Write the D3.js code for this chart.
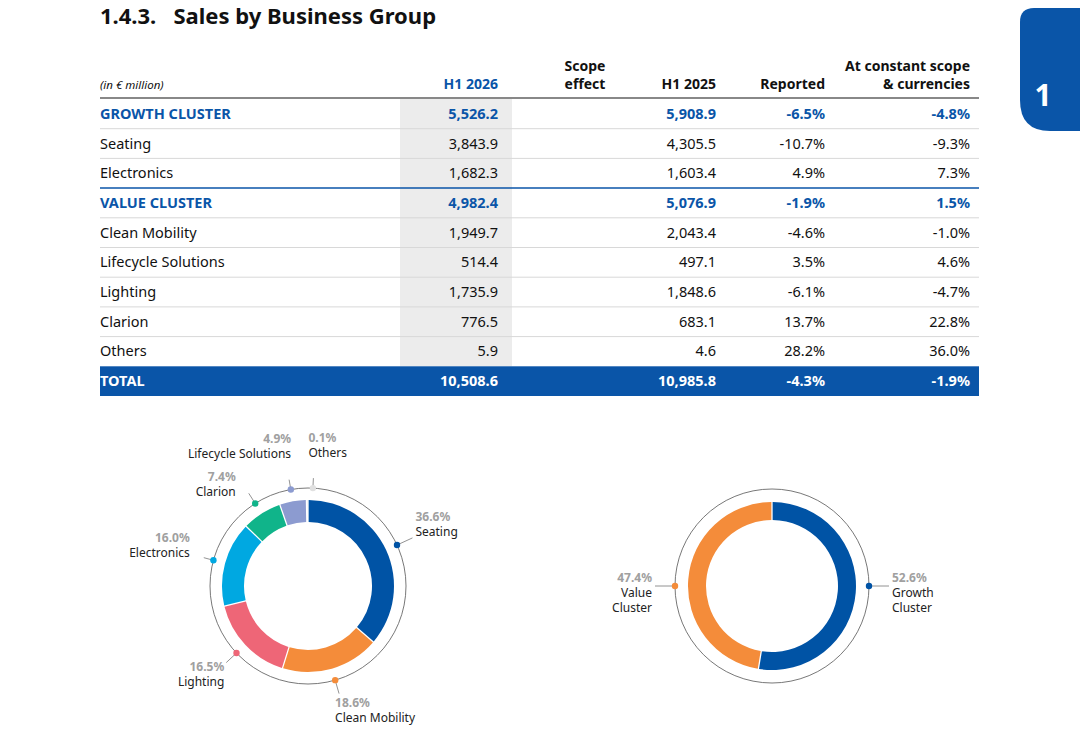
<!DOCTYPE html>
<html><head><meta charset="utf-8">
<script src="https://cdn.jsdelivr.net/npm/d3@7"></script>
<style>body{margin:0;background:#fff;font-family:"Noto Sans",sans-serif;}</style>
</head><body>
<svg id="chart" width="1080" height="735"></svg>
<script>
// table data
const rowLabels = ["GROWTH CLUSTER","Seating","Electronics","VALUE CLUSTER","Clean Mobility","Lifecycle Solutions","Lighting","Clarion","Others","TOTAL"];
const h1_2026 = ["5,526.2","3,843.9","1,682.3","4,982.4","1,949.7","514.4","1,735.9","776.5","5.9","10,508.6"];
const h1_2025 = ["5,908.9","4,305.5","1,603.4","5,076.9","2,043.4","497.1","1,848.6","683.1","4.6","10,985.8"];
const reported = ["-6.5%","-10.7%","4.9%","-1.9%","-4.6%","3.5%","-6.1%","13.7%","28.2%","-4.3%"];
const constant = ["-4.8%","-9.3%","7.3%","1.5%","-1.0%","4.6%","-4.7%","22.8%","36.0%","-1.9%"];
const rowKind = ["cluster","item","item","cluster","item","item","item","item","item","total"];

// donut data
const groups = ["Seating","Clean Mobility","Lighting","Electronics","Clarion","Lifecycle Solutions","Others"];
const groupShare = [36.6,18.6,16.5,16.0,7.4,4.9,0.1];
const groupColors = ["#0053a5","#f48c3a","#ee6677","#00a8e1","#10b48a","#8c9bd0","#e0e0e0"];
const clusters = ["Growth Cluster","Value Cluster"];
const clusterShare = [52.6,47.4];
const clusterColors = ["#0053a5","#f48c3a"];

const svg = d3.select("#chart");
const blue = "#0a55a8";
const font = "'Noto Sans',sans-serif";

svg.append("text").attr("x",100).attr("y",24).attr("font-size",22).attr("font-weight",700)
  .attr("fill","#111").attr("font-family",font).attr("xml:space","preserve").text("1.4.3.   Sales by Business Group");

// badge
svg.append("path").attr("d","M1034,8 L1080,8 L1080,131 L1050,131 Q1020,131 1020,100 L1020,22 Q1020,8 1034,8 Z").attr("fill",blue);
svg.append("text").attr("x",1043).attr("y",106).attr("font-size",30).attr("font-weight",700).attr("fill","#fff").attr("text-anchor","middle").text("1");

// table
const y = d3.scaleBand().domain(d3.range(rowLabels.length)).range([99,396]);
const x0 = 100, x1 = 979;
svg.append("rect").attr("x",400).attr("y",99).attr("width",112).attr("height",y(9)-99).attr("fill","#ececec");

const head = svg.append("g").attr("font-family",font).attr("font-size",14).attr("font-weight",700).attr("fill","#111");
head.append("text").attr("x",100).attr("y",89).attr("font-size",11.5).attr("font-weight",400).attr("font-style","italic").text("(in € million)");
head.append("text").attr("x",498).attr("y",89).attr("text-anchor","end").attr("fill",blue).text("H1 2026");
head.append("text").attr("x",585).attr("y",71).attr("text-anchor","middle").text("Scope");
head.append("text").attr("x",585).attr("y",89).attr("text-anchor","middle").text("effect");
head.append("text").attr("x",716).attr("y",89).attr("text-anchor","end").text("H1 2025");
head.append("text").attr("x",825).attr("y",89).attr("text-anchor","end").text("Reported");
head.append("text").attr("x",970).attr("y",71).attr("text-anchor","end").text("At constant scope");
head.append("text").attr("x",970).attr("y",89).attr("text-anchor","end").text("& currencies");
svg.append("line").attr("x1",x0).attr("x2",x1).attr("y1",98).attr("y2",98).attr("stroke","#888").attr("stroke-width",2);

const rows = svg.append("g").selectAll("g").data(rowLabels).join("g")
  .attr("transform",(d,i)=>`translate(0,${y(i)})`);
rows.filter((d,i)=>rowKind[i]==="total").append("rect").attr("x",x0).attr("width",x1-x0).attr("height",y.bandwidth()).attr("fill",blue);
rows.filter((d,i)=>i<8).append("line").attr("x1",x0).attr("x2",x1).attr("y1",y.bandwidth()).attr("y2",y.bandwidth())
  .attr("stroke",(d,i)=>i===2?blue:"#d8d8d8").attr("stroke-width",(d,i)=>i===2?1.5:1);
const cols = [
  {v:rowLabels,x:100,a:"start"},{v:h1_2026,x:498,a:"end"},{v:h1_2025,x:716,a:"end"},
  {v:reported,x:825,a:"end"},{v:constant,x:970,a:"end"}];
cols.forEach(c=>{
  rows.append("text").attr("x",c.x).attr("y",y.bandwidth()/2+5).attr("text-anchor",c.a)
    .attr("font-family",font).attr("font-size",14.5)
    .attr("font-weight",(d,i)=>rowKind[i]==="item"?400:700)
    .attr("fill",(d,i)=>rowKind[i]==="total"?"#fff":rowKind[i]==="cluster"?blue:"#111")
    .text((d,i)=>c.v[i]);
});

// donuts: label = leader length, angle override, text offset from leader end
function donut(cx, cy, names, vals, colors, rIn, rOut, rRing, labels) {
  const g = svg.append("g").attr("transform",`translate(${cx},${cy})`);
  g.append("circle").attr("r",rRing).attr("fill","none").attr("stroke","#555").attr("stroke-width",0.8);
  const arcs = d3.pie().sort(null).padAngle(0.012)(vals);
  const arc = d3.arc().innerRadius(rIn).outerRadius(rOut);
  g.selectAll("path").data(arcs).join("path").attr("d",arc).attr("fill",(d,i)=>colors[i]);
  arcs.forEach((d,i)=>{
    const L = labels[i];
    const a = L.ang !== undefined ? L.ang : (d.startAngle+d.endAngle)/2;
    const px = rRing*Math.sin(a), py = -rRing*Math.cos(a);
    const qx = (rRing+L.len)*Math.sin(a) + (L.h||0), qy = -(rRing+L.len)*Math.cos(a);
    g.append("line").attr("x1",px).attr("y1",py).attr("x2",qx).attr("y2",qy).attr("stroke","#777").attr("stroke-width",0.8);
    g.append("circle").attr("cx",px).attr("cy",py).attr("r",3.2).attr("fill",colors[i]);
    const tx = qx+L.dx;
    const t = g.append("text").attr("y",qy+L.dy).attr("text-anchor",L.anchor)
      .attr("font-family",font).attr("font-size",12);
    t.append("tspan").attr("x",tx).attr("font-weight",700).attr("fill","#a0a0a0").text(vals[i].toFixed(1)+"%");
    L.lines.forEach(s=>t.append("tspan").attr("x",tx).attr("dy",15).attr("fill","#222").text(s));
  });
}

donut(308,586,groups,groupShare,groupColors,64,86,98,[
  {len:17,dx:3,dy:-17,anchor:"start",lines:["Seating"]},
  {len:14,dx:-4,dy:13,anchor:"start",lines:["Clean Mobility"]},
  {len:14,dx:-2,dy:8,anchor:"end",lines:["Lighting"]},
  {len:10,dx:-14,dy:-16,anchor:"end",lines:["Electronics"]},
  {len:12,dx:-13,dy:-12,anchor:"end",lines:["Clarion"]},
  {len:10,dx:2,dy:-37,anchor:"end",lines:["Lifecycle Solutions"]},
  {len:10,ang:0.05,dx:-5,dy:-36,anchor:"start",lines:["Others"]}
]);

donut(772,586,clusters,clusterShare,clusterColors,66,84,97,[
  {len:0,h:20,ang:Math.PI/2,dx:3,dy:-4,anchor:"start",lines:["Growth","Cluster"]},
  {len:0,h:-20,ang:-Math.PI/2,dx:-3,dy:-4,anchor:"end",lines:["Value","Cluster"]}
]);
</script>
</body></html>
